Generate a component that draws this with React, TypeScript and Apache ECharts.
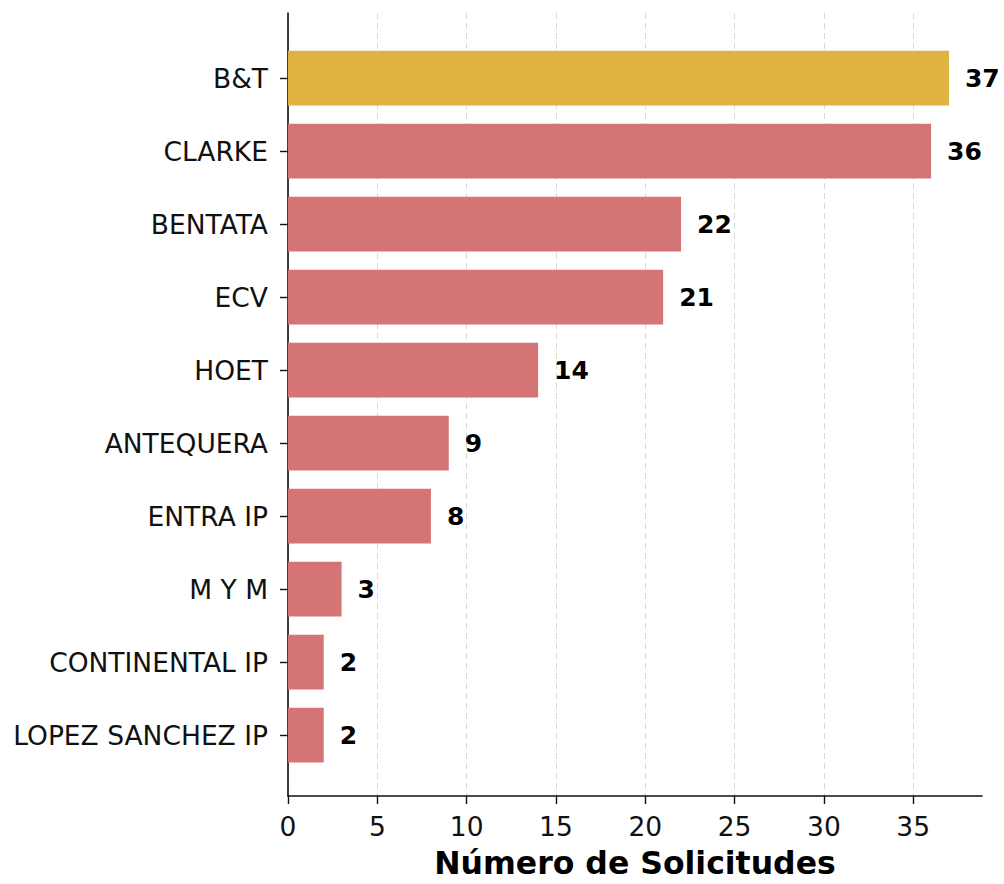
import React, { useEffect, useRef } from "react";
import * as echarts from "echarts";

const categories = [
  "B&T",
  "CLARKE",
  "BENTATA",
  "ECV",
  "HOET",
  "ANTEQUERA",
  "ENTRA IP",
  "M Y M",
  "CONTINENTAL IP",
  "LOPEZ SANCHEZ IP",
];
const values = [37, 36, 22, 21, 14, 9, 8, 3, 2, 2];
const highlightIndex = 0;
const xTicks = [0, 5, 10, 15, 20, 25, 30, 35];
const xMax = 38.85;
const xLabel = "Número de Solicitudes";

const GOLD = "#DFB241";
const RED = "#D47474";
const FONT = "DejaVu Sans";

export default function App() {
  const ref = useRef<HTMLDivElement>(null);
  useEffect(() => {
    if (!ref.current) return;
    const chart = echarts.init(ref.current, undefined, { renderer: "svg" });
    const left = 288;
    const right = 1004 - 982;
    chart.setOption({
      animation: false,
      backgroundColor: "#ffffff",
      grid: [
        { left, right, top: 41.5, height: 730 },
        { left, right, top: 13, height: 787 },
      ],
      xAxis: [
        {
          gridIndex: 0,
          type: "value",
          min: 0,
          max: xMax,
          show: false,
        },
        {
          gridIndex: 1,
          type: "value",
          min: 0,
          max: xMax,
          axisLine: { show: true, lineStyle: { color: "#111", width: 1.6 } },
          axisTick: {
            show: true,
            length: 8,
            customValues: xTicks,
            lineStyle: { color: "#111", width: 1.4 },
          },
          axisLabel: {
            fontFamily: FONT,
            fontSize: 26.5,
            color: "#111",
            margin: 17,
            customValues: xTicks,
          },
          splitLine: {
            show: true,
            lineStyle: { color: "#d9d9d9", type: [6, 4], width: 1 },
          },
          name: xLabel,
          nameLocation: "middle",
          nameGap: 51,
          nameTextStyle: {
            fontFamily: FONT,
            fontSize: 31.5,
            fontWeight: "bold",
            color: "#000",
          },
        },
      ],
      yAxis: [
        {
          gridIndex: 0,
          type: "category",
          data: categories,
          inverse: true,
          axisLine: { show: false },
          axisTick: {
            show: true,
            alignWithLabel: true,
            length: 8,
            lineStyle: { color: "#111", width: 1.4 },
          },
          axisLabel: {
            fontFamily: FONT,
            fontSize: 26.5,
            color: "#111",
            margin: 20,
          },
          splitLine: { show: false },
        },
        {
          gridIndex: 1,
          type: "value",
          min: 0,
          max: 1,
          axisLine: { show: true, onZero: false, lineStyle: { color: "#111", width: 1.6 } },
          axisTick: { show: false },
          axisLabel: { show: false },
          splitLine: { show: false },
        },
      ],
      series: [
        {
          type: "bar",
          xAxisIndex: 0,
          yAxisIndex: 0,
          barWidth: "75%",
          data: values.map((v, i) => ({
            value: v,
            itemStyle: { color: i === highlightIndex ? GOLD : RED },
          })),
          label: {
            show: true,
            position: "right",
            distance: 16,
            fontFamily: FONT,
            fontSize: 25,
            fontWeight: "bold",
            color: "#000",
          },
          z: 3,
        },
      ],
    });
    return () => chart.dispose();
  }, []);
  return (
    <div
      ref={ref}
      style={{ position: "absolute", left: 0, top: 0, width: 1004, height: 884 }}
    />
  );
}
